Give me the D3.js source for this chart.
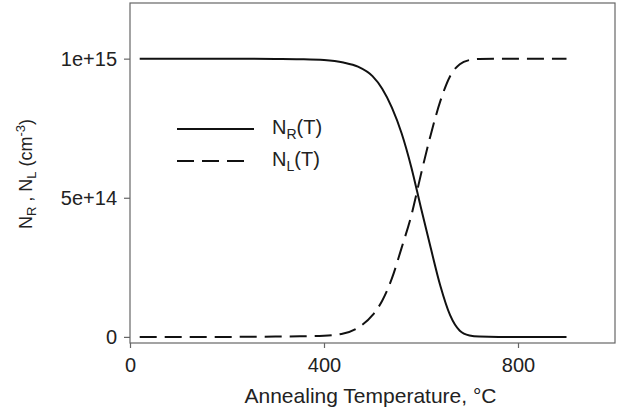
<!DOCTYPE html>
<html>
<head>
<meta charset="utf-8">
<script src="https://cdn.jsdelivr.net/npm/d3@7"></script>
<style>
  body { margin: 0; background: #fff; }
  text { font-family: "Liberation Sans", Arial, sans-serif; fill: #222; }
</style>
</head>
<body>
<div id="chart"></div>
<script>
const temps = [20, 100, 200, 300, 350, 400, 440, 470, 500, 520, 540, 560, 580, 600,
               620, 640, 660, 680, 700, 720, 760, 800, 850, 900];
// N_R(T), in units of 1e15 cm^-3
const nR = [1.0, 1.0, 1.0, 0.999, 0.998, 0.995, 0.986, 0.971, 0.937, 0.892, 0.824, 0.732, 0.61, 0.463,
            0.32, 0.183, 0.078, 0.022, 0.005, 0.001, 0, 0, 0, 0];
// N_L(T), in units of 1e15 cm^-3
const nL = [0, 0, 0, 0.001, 0.002, 0.004, 0.012, 0.033, 0.078, 0.13, 0.21, 0.32, 0.436, 0.585,
            0.726, 0.848, 0.937, 0.98, 0.995, 0.999, 1, 1, 1, 1];

const xTicks = [0, 400, 800];
const yTicks = [0, 5e14, 1e15];
const yTickLabels = ['0', '5e+14', '1e+15'];

const width = 620, height = 416;
const margin = { left: 130, right: 5, top: 3, bottom: 73 };

const svg = d3.select('#chart').append('svg')
  .attr('width', width)
  .attr('height', height);

const x = d3.scaleLinear().domain([0, 1000]).range([margin.left, width - margin.right]);
const y = d3.scaleLinear().domain([-0.022e15, 1.2e15]).range([height - margin.bottom, margin.top]);

// frame
svg.append('rect')
  .attr('x', x.range()[0]).attr('y', y.range()[1])
  .attr('width', x.range()[1] - x.range()[0])
  .attr('height', y.range()[0] - y.range()[1])
  .attr('fill', 'none').attr('stroke', '#666').attr('stroke-width', 1.2);

// axes
const xAxis = svg.append('g')
  .attr('transform', `translate(0,${y.range()[0]})`)
  .call(d3.axisBottom(x).tickValues(xTicks).tickSize(5).tickPadding(10));
const yAxis = svg.append('g')
  .attr('transform', `translate(${x.range()[0]},0)`)
  .call(d3.axisLeft(y).tickValues(yTicks).tickSize(6).tickPadding(7)
    .tickFormat((d, i) => yTickLabels[i]));

[xAxis, yAxis].forEach(g => {
  g.select('.domain').remove();
  g.selectAll('line').attr('stroke', '#666').attr('stroke-width', 1.2);
  g.selectAll('text').attr('font-size', 20).attr('fill', '#222')
    .attr('font-family', '"Liberation Sans", Arial, sans-serif');
});

// curves
const line = vals => d3.line()
  .x((d, i) => x(temps[i]))
  .y(d => y(d * 1e15))
  .curve(d3.curveMonotoneX)(vals);

svg.append('path').attr('d', line(nR))
  .attr('fill', 'none').attr('stroke', '#111').attr('stroke-width', 2);
svg.append('path').attr('d', line(nL))
  .attr('fill', 'none').attr('stroke', '#111').attr('stroke-width', 2)
  .attr('stroke-dasharray', '17,8');

// legend
const legend = svg.append('g');
const legendItems = [
  { sub: 'R', dash: null, y: 129 },
  { sub: 'L', dash: '17,8', y: 161 }
];
legendItems.forEach(it => {
  legend.append('line')
    .attr('x1', 177).attr('x2', it.dash ? 250 : 254)
    .attr('y1', it.y).attr('y2', it.y)
    .attr('stroke', '#111').attr('stroke-width', 2)
    .attr('stroke-dasharray', it.dash);
  const t = legend.append('text').attr('x', 272).attr('y', it.y + 5).attr('font-size', 20);
  t.append('tspan').text('N');
  t.append('tspan').attr('font-size', 14).attr('dy', 5).text(it.sub);
  t.append('tspan').attr('dy', -5).text('(T)');
});

// axis titles
svg.append('text')
  .attr('x', (x.range()[0] + x.range()[1]) / 2 - 2)
  .attr('y', 403)
  .attr('text-anchor', 'middle')
  .attr('font-size', 21)
  .text('Annealing Temperature, °C');

const yt = svg.append('text')
  .attr('transform', 'translate(32,174) rotate(-90)')
  .attr('text-anchor', 'middle')
  .attr('font-size', 18);
yt.append('tspan').text('N');
yt.append('tspan').attr('font-size', 13).attr('dy', 4).text('R');
yt.append('tspan').attr('dy', -4).text(' , N');
yt.append('tspan').attr('font-size', 13).attr('dy', 4).text('L');
yt.append('tspan').attr('dy', -4).text(' (cm');
yt.append('tspan').attr('font-size', 13).attr('dy', -7).text('-3');
yt.append('tspan').attr('dy', 7).text(')');
</script>
</body>
</html>
